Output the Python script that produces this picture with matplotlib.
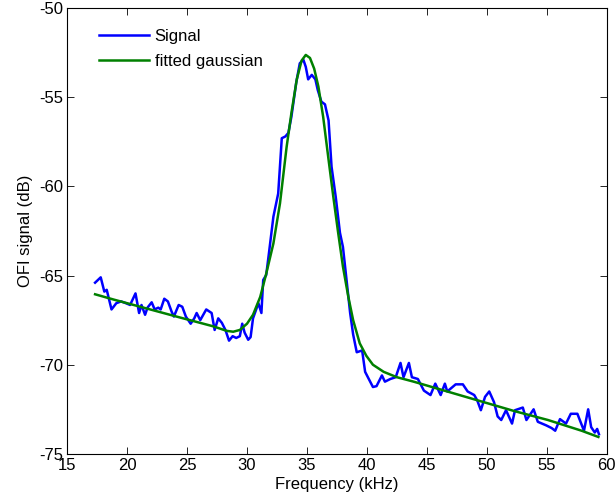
import matplotlib
matplotlib.use("Agg")
import matplotlib.pyplot as plt

# Measured signal (frequency in kHz, OFI signal in dB)
sig_f = [17.33, 17.8, 18.1, 18.3, 18.7, 19.1, 19.5, 19.9, 20.25, 20.7, 21.0, 21.2, 21.5, 21.7,
         22.05, 22.3, 22.6, 22.8, 23.1, 23.4, 23.7, 23.9, 24.3, 24.6, 24.9, 25.3, 25.6, 25.8,
         26.1, 26.6, 27.05, 27.3, 27.6, 27.9, 28.2, 28.5, 28.8, 29.1, 29.4, 29.6, 29.8, 30.1,
         30.3, 30.5, 30.95, 31.2, 31.35, 31.6, 31.8, 32.2, 32.6, 32.9, 33.2, 33.45, 33.7, 34.1,
         34.4, 34.7, 34.9, 35.1, 35.4, 35.7, 35.9, 36.2, 36.5, 36.8, 37.05, 37.4, 37.75, 38.0,
         38.3, 38.6, 38.85, 39.15, 39.6, 39.85, 40.5, 40.8, 41.25, 41.5, 41.95, 42.4, 42.8,
         43.05, 43.5, 43.75, 44.25, 44.75, 45.3, 45.7, 46.15, 46.5, 46.7, 47.4, 48.0, 48.4,
         48.95, 49.2, 49.5, 49.85, 50.2, 50.6, 50.9, 51.2, 51.6, 52.1, 52.35, 53.0, 53.3, 53.9,
         54.25, 54.95, 55.4, 55.7, 56.1, 56.6, 57.0, 57.55, 58.1, 58.45, 58.7, 59.0, 59.2, 59.35]
sig_db = [-65.4, -65.1, -65.9, -65.8, -66.9, -66.55, -66.45, -66.55, -66.65, -66.0, -67.1, -66.65,
          -67.2, -66.8, -66.5, -66.9, -66.8, -66.9, -66.3, -66.45, -67.0, -67.3, -66.65, -66.75,
          -67.3, -67.7, -67.4, -67.1, -67.5, -66.9, -67.1, -68.05, -67.4, -67.65, -68.05, -68.65,
          -68.4, -68.5, -68.4, -67.7, -68.2, -68.6, -68.45, -67.4, -66.55, -67.1, -65.25, -64.97,
          -63.9, -61.7, -60.4, -57.3, -57.2, -57.0, -56.1, -54.2, -53.1, -52.9, -53.3, -54.0,
          -53.75, -54.0, -54.6, -55.25, -55.4, -56.3, -58.9, -60.6, -62.6, -63.4, -65.25, -67.1,
          -68.3, -69.3, -69.2, -70.4, -71.25, -71.2, -70.6, -70.95, -70.8, -70.7, -69.9, -70.7,
          -69.9, -70.7, -70.8, -71.45, -71.7, -71.06, -71.7, -71.06, -71.5, -71.1, -71.1, -71.5,
          -71.7, -72.0, -72.55, -71.8, -71.5, -72.1, -72.9, -73.1, -72.55, -73.3, -72.55, -72.4,
          -73.1, -72.5, -73.2, -73.4, -73.55, -73.7, -73.05, -73.3, -72.75, -72.75, -73.7, -72.5,
          -73.5, -73.8, -73.6, -73.9]

# Fitted gaussian curve
fit_f = [17.33, 18.9, 21.65, 24.4, 27.2, 28.3, 28.85, 29.4, 30.0, 30.5, 31.1, 31.6, 32.2, 32.75,
         33.3, 33.7, 34.15, 34.55, 34.9, 35.25, 35.6, 35.95, 36.35, 36.8, 37.2, 37.6, 38.0, 38.45,
         38.85, 39.4, 39.95, 40.5, 41.4, 42.5, 43.9, 46.7, 49.5, 52.3, 55.1, 57.9, 59.3]
fit_db = [-66.05, -66.35, -66.85, -67.35, -67.85, -68.1, -68.15, -68.05, -67.7, -67.2, -66.2, -64.9,
          -63.2, -60.95, -57.8, -55.9, -54.0, -52.95, -52.63, -52.8, -53.4, -54.4, -56.1, -58.5,
          -60.6, -62.6, -64.5, -66.2, -67.5, -68.8, -69.5, -70.0, -70.4, -70.7, -70.95, -71.5,
          -72.05, -72.6, -73.1, -73.7, -74.05]

x_ticks = [15, 20, 25, 30, 35, 40, 45, 50, 55, 60]
y_ticks = [-75, -70, -65, -60, -55, -50]

plt.rcParams['font.family'] = ['Liberation Sans', 'DejaVu Sans']
plt.rcParams['axes.unicode_minus'] = False

fig = plt.figure(figsize=(6.16, 5.01), dpi=100)
ax = fig.add_axes([0.109, 0.094, 0.876, 0.890])
ax.plot(sig_f, sig_db, color='#0000ff', lw=1.8, label='Signal')
ax.plot(fit_f, fit_db, color='#008000', lw=1.8, label='fitted gaussian')
ax.set_xlim(15, 60)
ax.set_ylim(-75, -50)
ax.set_xticks(x_ticks)
ax.set_yticks(y_ticks)
ax.tick_params(direction='in', top=True, right=True, length=5, width=0.6, pad=3, labelsize=12)
for s in ax.spines.values():
    s.set_linewidth(0.8)
ax.set_xlabel('Frequency (kHz)', fontsize=12, labelpad=3)
ax.set_ylabel('OFI signal (dB)', fontsize=12, labelpad=4)
leg = ax.legend(loc='upper left', frameon=False, fontsize=12, handlelength=3.0,
                handletextpad=0.35, labelspacing=0.57, borderaxespad=0.3,
                bbox_to_anchor=(0.037, 0.979))
fig.savefig('out.png', dpi=100)
